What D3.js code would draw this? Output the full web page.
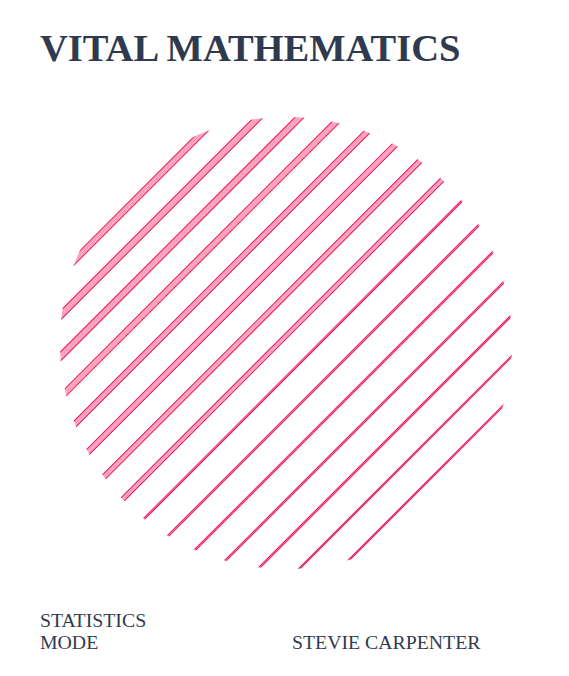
<!DOCTYPE html>
<html><head><meta charset="utf-8">
<script src="https://cdn.jsdelivr.net/npm/d3@7"></script>
<style>body{margin:0;background:#fff}</style>
</head><body>
<div id="chart"></div>
<script>
// stripe index and thickness (px), top-left to bottom-right
const stripes = d3.range(15);
const thickness = [6, 6.5, 6.5, 6, 5.5, 5.5, 5, 4.5, 1.5, 1.5, 1.5, 1.5, 1.5, 1.2, 1.2];

var svgWidth = 569, svgHeight = 676;
var cx = 286, cy = 343, r = 226;

var svg = d3.select("#chart").append("svg")
  .attr("width", svgWidth).attr("height", svgHeight);

svg.append("defs").append("clipPath").attr("id", "circ")
  .append("circle").attr("cx", 0).attr("cy", 0).attr("r", r);

var g = svg.append("g")
  .attr("transform", `translate(${cx},${cy}) rotate(-45)`);

// perpendicular offset of each stripe from the circle centre
var vScale = d3.scaleLinear().domain([0, 14]).range([-208, 198]);

g.append("g").attr("clip-path", "url(#circ)")
  .selectAll("rect").data(stripes).enter().append("rect")
  .attr("x", -r - 10)
  .attr("width", 2 * r + 20)
  .attr("y", d => vScale(d) - thickness[d] / 2)
  .attr("height", d => thickness[d])
  .attr("fill", "#ffa3bd")
  .attr("stroke", "#e8195f")
  .attr("stroke-width", 1);

svg.append("text").attr("x", 40).attr("y", 61)
  .attr("font-family", "Liberation Serif, serif").attr("font-weight", "bold")
  .attr("font-size", "38.5px").attr("fill", "#2f3a4e")
  .text("VITAL MATHEMATICS");

var foot = [["STATISTICS", 40, 627], ["MODE", 40, 649], ["STEVIE CARPENTER", 292, 649]];
svg.selectAll(".foot").data(foot).enter().append("text")
  .attr("class", "foot")
  .attr("x", d => d[1]).attr("y", d => d[2])
  .attr("font-family", "Liberation Serif, serif").attr("font-size", "19.8px")
  .attr("fill", "#2f3a4e").text(d => d[0]);
</script>
</body></html>
